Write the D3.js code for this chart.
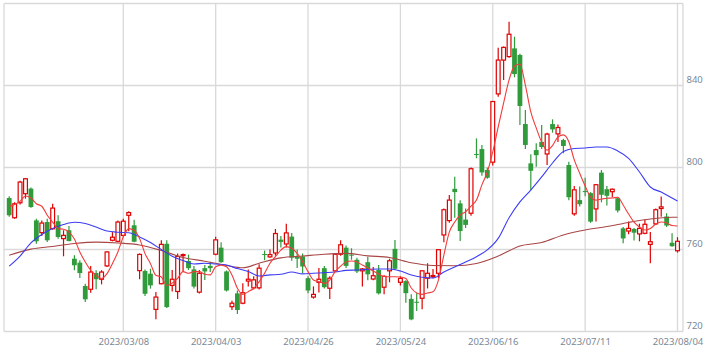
<!DOCTYPE html>
<html>
<head>
<meta charset="utf-8">
<script src="https://cdn.jsdelivr.net/npm/d3@7"></script>
<style>
  body { margin: 0; background: #fff; }
  svg { display: block; }
  .tick text { font-family: "Noto Sans", sans-serif; font-size: 9.5px; fill: #7a8898; }
</style>
</head>
<body>
<svg id="chart"></svg>
<script>
// trading days shown on the chart
const dates = [
  "2023/02/06","2023/02/07","2023/02/08","2023/02/09","2023/02/10","2023/02/13","2023/02/14","2023/02/15","2023/02/16","2023/02/17",
  "2023/02/20","2023/02/21","2023/02/22","2023/02/24","2023/02/27","2023/02/28",
  "2023/03/01","2023/03/02","2023/03/03","2023/03/06","2023/03/07","2023/03/08","2023/03/09","2023/03/10","2023/03/13","2023/03/14",
  "2023/03/15","2023/03/16","2023/03/17","2023/03/20","2023/03/22","2023/03/23","2023/03/24","2023/03/27","2023/03/28","2023/03/29",
  "2023/03/30","2023/03/31",
  "2023/04/03","2023/04/04","2023/04/05","2023/04/06","2023/04/07","2023/04/10","2023/04/11","2023/04/12","2023/04/13","2023/04/14",
  "2023/04/17","2023/04/18","2023/04/19","2023/04/20","2023/04/21","2023/04/24","2023/04/25","2023/04/26","2023/04/27","2023/04/28",
  "2023/05/01","2023/05/02","2023/05/08","2023/05/09","2023/05/10","2023/05/11","2023/05/12","2023/05/15","2023/05/16","2023/05/17",
  "2023/05/18","2023/05/19","2023/05/22","2023/05/23","2023/05/24","2023/05/25","2023/05/26","2023/05/29","2023/05/30","2023/05/31",
  "2023/06/01","2023/06/02","2023/06/05","2023/06/06","2023/06/07","2023/06/08","2023/06/09","2023/06/12","2023/06/13","2023/06/14",
  "2023/06/15","2023/06/16","2023/06/19","2023/06/20","2023/06/21","2023/06/22","2023/06/23","2023/06/26","2023/06/27","2023/06/28",
  "2023/06/29","2023/06/30",
  "2023/07/03","2023/07/04","2023/07/05","2023/07/06","2023/07/07","2023/07/10","2023/07/11","2023/07/12","2023/07/13","2023/07/14",
  "2023/07/18","2023/07/19","2023/07/20","2023/07/21","2023/07/24","2023/07/25","2023/07/26","2023/07/27","2023/07/28","2023/07/31",
  "2023/08/01","2023/08/02","2023/08/03","2023/08/04"
];

// OHLC
const open = [
  785.1,775.5,782.8,787.2,789.7,774.2,768.2,773.4,770.1,773.8,
  765.3,769.4,755.5,753.6,742.2,740.6,748.5,745.5,752.0,764.5,
  764.0,766.9,776.7,771.8,749.7,749.5,748.2,730.8,743.3,762.8,
  742.5,739.5,757.0,754.4,750.3,739.2,750.9,752.0,757.7,760.9,
  749.3,732.1,738.6,733.8,744.6,741.3,741.3,757.8,756.4,758.3,
  764.8,762.7,766.3,756.5,756.6,746.0,736.8,744.0,750.9,741.1,
  749.6,757.7,760.9,757.5,755.0,749.6,753.8,745.6,750.0,741.6,
  749.6,760.3,744.0,744.6,735.9,734.5,736.2,746.0,746.7,748.4,
  767.1,774.1,789.6,782.5,774.6,777.7,806.6,809.0,798.8,802.6,
  835.9,852.4,854.1,858.1,854.9,821.2,802.0,808.5,812.5,806.6,
  821.2,816.4,813.4,801.2,777.4,784.1,788.5,787.5,779.8,797.5,
  789.4,788.2,785.0,770.3,769.0,770.0,767.6,767.9,762.5,772.5,
  780.0,776.1,763.3,759.4
];
const high = [
  786.0,783.0,793.5,794.9,790.2,775.0,774.2,775.0,782.3,776.7,
  769.4,771.5,757.2,754.7,743.3,752.0,749.9,749.9,759.1,768.5,
  774.2,775.0,778.6,774.5,758.0,750.3,750.6,739.3,764.5,764.5,
  750.0,758.1,758.0,757.5,752.0,750.0,752.5,754.0,766.2,763.5,
  749.8,735.0,740.0,743.5,750.3,747.0,752.8,759.5,760.0,770.0,
  766.6,772.6,768.0,760.0,758.0,747.0,742.0,751.0,752.0,747.0,
  758.0,764.5,762.0,760.6,756.0,751.0,756.5,751.5,752.5,747.5,
  755.5,764.6,747.0,745.0,738.2,738.6,749.8,753.3,750.5,760.0,
  780.0,786.6,795.5,784.0,780.0,800.0,814.2,811.0,800.0,832.5,
  858.4,859.0,871.1,863.8,855.5,828.0,806.5,811.8,820.7,817.0,
  823.5,821.0,814.0,802.8,791.0,790.7,795.0,788.0,792.0,798.8,
  791.0,789.8,785.5,771.0,773.6,770.5,772.6,774.6,768.5,780.0,
  785.8,777.7,767.9,766.0
];
const low = [
  776.0,775.0,782.0,784.8,780.4,762.8,766.6,763.7,769.8,765.3,
  756.7,764.0,749.9,746.1,734.4,738.9,740.6,743.0,751.5,764.0,
  763.5,766.0,768.9,763.5,745.5,737.3,740.9,726.0,743.0,731.5,
  739.5,735.9,749.0,750.0,741.0,738.5,745.1,749.0,757.2,753.5,
  739.5,730.5,728.5,733.3,742.0,740.5,740.5,754.8,756.0,757.0,
  761.0,761.0,754.5,751.0,748.5,738.7,736.0,739.0,741.0,735.9,
  749.0,757.0,751.0,755.0,748.5,742.0,745.0,745.0,738.0,738.2,
  744.0,750.0,742.5,734.0,725.5,730.0,730.9,741.0,746.0,746.0,
  763.5,773.0,775.5,764.1,770.5,776.5,804.5,796.0,794.5,801.0,
  834.5,842.7,853.5,844.0,820.7,809.0,789.0,800.4,809.0,801.2,
  817.0,812.5,806.9,784.0,776.5,781.0,786.0,773.0,773.6,783.0,
  781.5,785.5,778.0,763.0,767.5,764.4,764.0,767.5,753.3,772.0,
  776.0,771.0,761.3,758.5
];
const close = [
  776.7,782.3,792.9,794.5,780.7,764.0,772.9,764.5,780.2,766.1,
  766.9,764.1,752.3,748.5,735.7,749.0,745.5,749.0,758.8,766.0,
  773.4,773.8,778.0,763.8,757.6,738.4,742.5,736.8,762.5,731.9,
  745.5,756.6,757.5,750.9,741.9,748.4,749.3,750.9,764.7,753.8,
  740.0,733.8,730.5,738.9,745.5,745.2,750.9,757.3,757.5,767.8,
  763.7,768.1,756.0,755.5,751.7,740.0,738.1,745.5,741.6,746.0,
  757.7,762.3,752.0,757.0,749.3,750.5,747.9,747.2,738.6,746.9,
  754.5,750.6,745.9,738.7,725.9,734.0,749.6,748.4,747.3,759.9,
  779.4,784.1,788.0,769.0,772.0,799.4,806.2,797.6,795.0,832.2,
  852.4,858.6,865.0,845.6,830.0,811.0,798.4,806.0,810.0,816.3,
  818.6,819.5,810.5,785.5,789.1,782.1,788.0,773.6,791.6,786.7,
  786.2,789.4,779.0,765.4,770.3,768.2,770.3,772.3,763.8,779.4,
  780.8,771.7,761.6,764.0
];

// short moving average, one value per day
const maShort = [
  781.1,782.0,783.5,786.1,785.1,782.3,781.1,776.7,773.4,770.2,
  769.9,768.5,765.1,758.8,753.9,749.8,747.4,745.8,748.2,753.1,
  758.8,766.1,770.2,769.4,765.3,758.0,753.1,747.4,746.6,742.5,
  743.6,745.9,749.2,748.4,749.2,749.2,747.9,747.6,751.6,752.4,
  751.6,747.6,741.1,738.1,739.4,741.1,744.3,748.4,753.3,756.5,
  759.7,761.4,760.6,758.1,754.1,749.2,745.1,744.3,743.5,745.1,
  749.2,751.9,753.9,754.4,753.9,752.4,751.0,749.5,748.1,746.8,
  746.7,746.7,746.6,745.9,741.2,738.8,738.1,738.8,739.4,745.1,
  757.3,768.5,773.4,776.8,778.4,781.2,784.1,791.5,797.8,807.6,
  819.8,831.5,842.7,849.5,850.5,840.2,827.1,819.3,812.4,808.5,
  810.7,814.9,815.9,812.6,803.7,797.2,791.0,785.6,784.1,784.6,
  785.0,785.1,785.5,781.7,777.3,773.4,771.0,769.5,770.2,772.4,
  773.4,772.9,771.7,771.5
];

// medium moving average, read at [day index, value]
const maMid = [
  [0,751.9],[2,756.8],[4,763.2],[6,767.3],[8,770.2],[10,772.2],[12,773.3],[14,772.7],[16,771.0],[18,769.0],
  [20,768.4],[22,768.2],[24,766.1],[26,763.4],[28,760.0],[30,756.7],[32,754.6],[34,752.9],[36,753.3],[38,752.9],
  [40,752.4],[42,750.7],[44,749.3],[46,747.1],[48,747.6],[50,747.9],[52,749.0],[54,748.1],[56,748.4],[58,748.7],
  [60,749.0],[62,749.8],[64,750.0],[66,750.3],[68,750.5],[70,750.5],[72,749.5],[74,747.6],[76,746.5],[78,746.1],
  [80,749.0],[82,751.5],[84,753.9],[86,756.5],[88,759.8],[90,765.4],[92,775.5],[94,783.2],[96,789.0],[98,795.4],
  [100,802.2],[102,807.8],[104,809.3],[106,809.5],[108,810.0],[110,810.0],[112,808.1],[114,804.5],[116,797.8],[118,790.5],
  [120,788.0],[122,785.1],[123,783.7]
];

// long moving average, read at [day index, value]
const maLong = [
  [0,757.2],[4,760.2],[8,761.5],[12,762.9],[16,763.6],[20,763.2],[24,762.2],[28,759.5],[32,756.1],[36,754.3],
  [40,752.2],[43,751.1],[46,753.3],[50,755.9],[54,756.8],[58,757.7],[62,758.1],[66,756.9],[70,756.1],[74,753.5],
  [78,752.2],[82,752.1],[86,753.2],[90,756.8],[94,761.7],[98,763.4],[102,767.1],[106,769.5],[110,771.2],[114,773.2],
  [118,774.9],[122,775.7],[123,775.7]
];

const tickDates = ["2023/03/08","2023/04/03","2023/04/26","2023/05/24","2023/06/16","2023/07/11","2023/08/04"];
const priceTicks = [720, 760, 800, 840];
const priceGrid = [720, 760, 800, 840, 880];

const width = 720;
const height = 352;
const plot = { left: 4, top: 3.5, right: 683, bottom: 331.5 };

const x = d3.scalePoint().domain(dates).range([9.2, 677.5]);
const y = d3.scaleLinear().domain([720, 880]).range([plot.bottom, plot.top]);

const upColor = "#e00000";
const downColor = "#2f9b3a";

const svg = d3.select("#chart")
    .attr("width", width)
    .attr("height", height);

// grid
const grid = svg.append("g")
    .attr("stroke", "#d9d9d9")
    .attr("stroke-width", 1.3)
    .attr("fill", "none");

grid.selectAll("line.h")
    .data(priceGrid)
    .join("line")
    .attr("class", "h")
    .attr("x1", plot.left)
    .attr("x2", plot.right)
    .attr("y1", d => y(d))
    .attr("y2", d => y(d));

grid.selectAll("line.v")
    .data(tickDates)
    .join("line")
    .attr("class", "v")
    .attr("x1", d => x(d))
    .attr("x2", d => x(d))
    .attr("y1", plot.top)
    .attr("y2", plot.bottom);

grid.append("line")
    .attr("x1", plot.left).attr("x2", plot.left)
    .attr("y1", plot.top).attr("y2", plot.bottom);
grid.append("line")
    .attr("x1", plot.right).attr("x2", plot.right)
    .attr("y1", plot.top).attr("y2", plot.bottom);

// axes
const xAxis = d3.axisBottom(x)
    .tickValues(tickDates)
    .tickSize(0)
    .tickPadding(0);
svg.append("g")
    .attr("transform", "translate(0," + plot.bottom + ")")
    .call(xAxis)
    .call(g => g.select(".domain").remove())
    .selectAll("text")
    .attr("y", 13)
    .attr("dy", 0);

const yAxis = d3.axisRight(y)
    .tickValues(priceTicks)
    .tickSize(0)
    .tickPadding(0);
svg.append("g")
    .attr("transform", "translate(" + (plot.right + 3.5) + ",0)")
    .call(yAxis)
    .call(g => g.select(".domain").remove())
    .selectAll("text")
    .attr("dy", -3);

// candles
const candles = dates.map((d, i) => ({
    date: d, o: open[i], h: high[i], l: low[i], c: close[i]
}));

const cg = svg.append("g");

cg.selectAll("line")
    .data(candles)
    .join("line")
    .attr("x1", d => x(d.date))
    .attr("x2", d => x(d.date))
    .attr("y1", d => y(d.h))
    .attr("y2", d => y(d.l))
    .attr("stroke", d => d.c >= d.o ? upColor : downColor)
    .attr("stroke-width", 1.2);

cg.selectAll("rect")
    .data(candles)
    .join("rect")
    .attr("x", d => x(d.date) - (d.c >= d.o ? 1.9 : 2.4))
    .attr("width", d => d.c >= d.o ? 3.8 : 4.8)
    .attr("y", d => y(Math.max(d.o, d.c)))
    .attr("height", d => Math.max(1, Math.abs(y(d.o) - y(d.c))))
    .attr("fill", d => d.c >= d.o ? "#fff" : downColor)
    .attr("stroke", d => d.c >= d.o ? upColor : "none")
    .attr("stroke-width", 1.2);

// moving averages
const lineIdx = d3.line()
    .x(d => x(dates[d[0]]))
    .y(d => y(d[1]))
    .curve(d3.curveMonotoneX);

svg.append("path")
    .datum(maLong)
    .attr("d", lineIdx)
    .attr("fill", "none")
    .attr("stroke", "#a84646")
    .attr("stroke-width", 1.1);

svg.append("path")
    .datum(maMid)
    .attr("d", lineIdx)
    .attr("fill", "none")
    .attr("stroke", "#3c3cf5")
    .attr("stroke-width", 1.1);

svg.append("path")
    .datum(maShort.map((v, i) => [i, v]))
    .attr("d", lineIdx)
    .attr("fill", "none")
    .attr("stroke", "#f23c3c")
    .attr("stroke-width", 1.1);
</script>
</body>
</html>
